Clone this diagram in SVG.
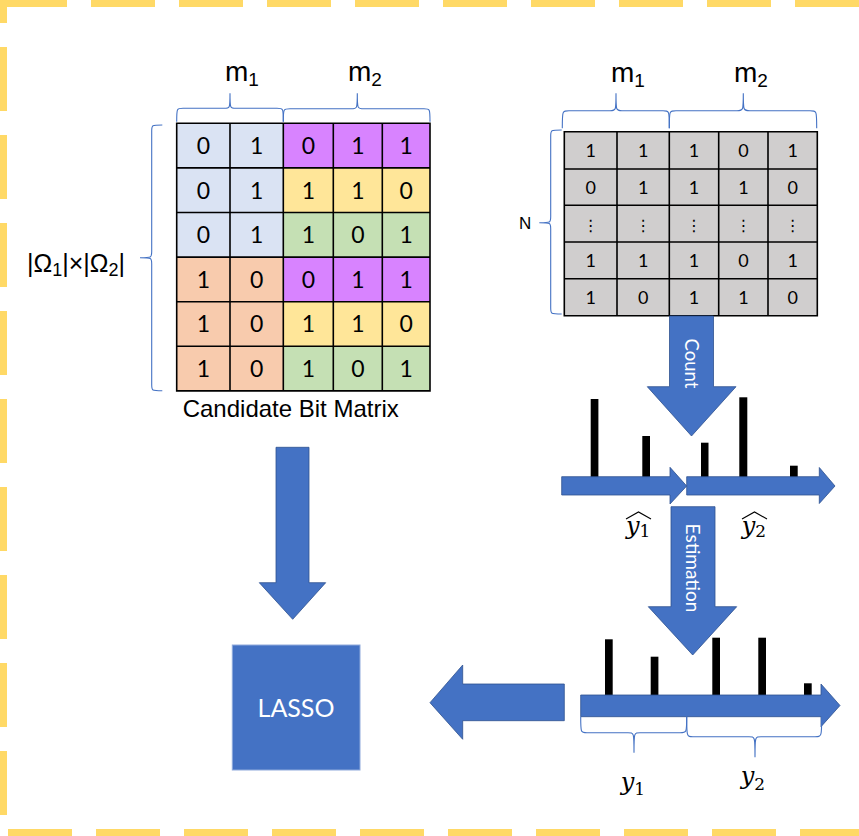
<svg xmlns="http://www.w3.org/2000/svg" width="859" height="836" viewBox="0 0 859 836">
  <style>
    .frame { fill: none; stroke: #FFD966; stroke-width: 7; stroke-dasharray: 64 24; }
    .grid { fill: none; stroke: #000; stroke-width: 1.6; }
    .brace { fill: none; stroke: #4472C4; stroke-width: 1.1; }
    .arrow { fill: #4472C4; stroke: #2F528F; stroke-width: 0.8; }
    .bar { fill: #000; }
    .dL { font-family: Lato, "Open Sans", sans-serif; font-size: 23px; fill: #000; text-anchor: middle; }
    .dR { font-family: Lato, "Open Sans", sans-serif; font-size: 18px; fill: #000; text-anchor: middle; }
    .dots { font-family: "DejaVu Sans", sans-serif; font-size: 16px; fill: #000; text-anchor: middle; }
    .lab { font-family: "Liberation Sans", Arial, sans-serif; fill: #000; }
    .wt { font-family: Lato, "Open Sans", sans-serif; fill: #fff; text-anchor: middle; }
    .mi { font-family: "DejaVu Serif", "Liberation Serif", serif; font-style: italic; font-size: 24px; fill: #000; }
    .sub { font-style: normal; font-size: 17px; }
    .hat { fill: none; stroke: #000; stroke-width: 1.1; }
  </style>

  <!-- dashed yellow frame -->
  <g id="frame">
    <line class="frame" x1="0" y1="3.5" x2="859" y2="3.5" stroke-dashoffset="85"/>
    <line class="frame" x1="3.5" y1="-41" x2="3.5" y2="836"/>
    <line class="frame" x1="8" y1="832.5" x2="859" y2="832.5"/>
  </g>

  <!-- candidate bit matrix -->
  <g id="candidate-matrix">
    <rect x="176.7" y="123.3" width="106.6" height="133.8" fill="#DAE3F3"/>
    <rect x="176.7" y="257.1" width="106.6" height="133.8" fill="#F8CBAD"/>
    <rect x="283.3" y="123.3" width="146.7" height="44.6" fill="#D883FF"/>
    <rect x="283.3" y="167.9" width="146.7" height="44.6" fill="#FFE699"/>
    <rect x="283.3" y="212.5" width="146.7" height="44.6" fill="#C5E0B4"/>
    <rect x="283.3" y="257.1" width="146.7" height="44.6" fill="#D883FF"/>
    <rect x="283.3" y="301.7" width="146.7" height="44.6" fill="#FFE699"/>
    <rect x="283.3" y="346.3" width="146.7" height="44.6" fill="#C5E0B4"/>
    <path class="grid" d="M176.7,123.3H430V390.9H176.7Z
      M176.7,167.9H430 M176.7,212.5H430 M176.7,257.1H430 M176.7,301.7H430 M176.7,346.3H430
      M230,123.3V390.9 M283.3,123.3V390.9 M333.3,123.3V390.9 M382.3,123.3V390.9"/>
    <g class="dL">
      <text x="203.3" y="154">0</text><text x="256.7" y="154">1</text><text x="308.3" y="154">0</text><text x="357.8" y="154">1</text><text x="406.2" y="154">1</text>
      <text x="203.3" y="198.6">0</text><text x="256.7" y="198.6">1</text><text x="308.3" y="198.6">1</text><text x="357.8" y="198.6">1</text><text x="406.2" y="198.6">0</text>
      <text x="203.3" y="243.2">0</text><text x="256.7" y="243.2">1</text><text x="308.3" y="243.2">1</text><text x="357.8" y="243.2">0</text><text x="406.2" y="243.2">1</text>
      <text x="203.3" y="287.8">1</text><text x="256.7" y="287.8">0</text><text x="308.3" y="287.8">0</text><text x="357.8" y="287.8">1</text><text x="406.2" y="287.8">1</text>
      <text x="203.3" y="332.4">1</text><text x="256.7" y="332.4">0</text><text x="308.3" y="332.4">1</text><text x="357.8" y="332.4">1</text><text x="406.2" y="332.4">0</text>
      <text x="203.3" y="377">1</text><text x="256.7" y="377">0</text><text x="308.3" y="377">1</text><text x="357.8" y="377">0</text><text x="406.2" y="377">1</text>
    </g>
    <path class="brace" d="M176.7,121.7C176.7,108.3 176.7,108.3 183,108.3H224C230,108.3 230,108.3 230,93.3C230,108.3 230,108.3 236,108.3H277C283.3,108.3 283.3,108.3 283.3,121.7"/>
    <path class="brace" d="M283.3,121.7C283.3,108.8 283.3,108.8 290,108.8H351C357.3,108.8 357.3,108.8 357.3,93.3C357.3,108.8 357.3,108.8 364,108.8H424C430,108.8 430,108.8 430,121.7"/>
    <path class="brace" d="M162.3,125C151.7,125 151.7,125 151.7,131V251.7C151.7,257.7 151.7,257.7 140,257.7C151.7,257.7 151.7,257.7 151.7,263.7V384.7C151.7,390.7 151.7,390.7 162.3,390.7"/>
    <text class="lab" x="225" y="81" font-size="28">m<tspan font-size="19" dy="5">1</tspan></text>
    <text class="lab" x="348" y="81" font-size="28">m<tspan font-size="19" dy="5">2</tspan></text>
    <text class="lab" x="27" y="271.5" font-size="25">|Ω<tspan font-size="18" dy="4">1</tspan><tspan dy="-4">|×|Ω</tspan><tspan font-size="18" dy="4">2</tspan><tspan dy="-4">|</tspan></text>
    <text class="lab" x="182.7" y="417" font-size="24">Candidate Bit Matrix</text>
  </g>

  <!-- observed data matrix -->
  <g id="data-matrix">
    <rect x="564.3" y="131.7" width="253" height="184" fill="#D0CECE"/>
    <path class="grid" d="M564.3,131.7H817.3V315.7H564.3Z
      M564.3,169H817.3 M564.3,205.3H817.3 M564.3,242H817.3 M564.3,278.7H817.3
      M617,131.7V315.7 M669.3,131.7V315.7 M718.7,131.7V315.7 M768,131.7V315.7"/>
    <g class="dR">
      <text x="590.7" y="157">1</text><text x="643.2" y="157">1</text><text x="694" y="157">1</text><text x="743.4" y="157">0</text><text x="792.7" y="157">1</text>
      <text x="590.7" y="193.7">0</text><text x="643.2" y="193.7">1</text><text x="694" y="193.7">1</text><text x="743.4" y="193.7">1</text><text x="792.7" y="193.7">0</text>
      <text x="590.7" y="267">1</text><text x="643.2" y="267">1</text><text x="694" y="267">1</text><text x="743.4" y="267">0</text><text x="792.7" y="267">1</text>
      <text x="590.7" y="303.7">1</text><text x="643.2" y="303.7">0</text><text x="694" y="303.7">1</text><text x="743.4" y="303.7">1</text><text x="792.7" y="303.7">0</text>
    </g>
    <g class="dots">
      <text x="590.7" y="230.5">⋮</text><text x="643.2" y="230.5">⋮</text><text x="694" y="230.5">⋮</text><text x="743.4" y="230.5">⋮</text><text x="792.7" y="230.5">⋮</text>
    </g>
    <path class="brace" d="M562.3,128.3C562.3,110.7 562.3,110.7 569,110.7H610C616,110.7 616,110.7 616,93.3C616,110.7 616,110.7 622,110.7H663C669.3,110.7 669.3,110.7 669.3,128.3"/>
    <path class="brace" d="M669.3,128.3C669.3,110.7 669.3,110.7 676,110.7H737C743.3,110.7 743.3,110.7 743.3,93.3C743.3,110.7 743.3,110.7 750,110.7H810C816.7,110.7 816.7,110.7 816.7,128.3"/>
    <path class="brace" d="M561.7,130C550.7,130 550.7,130 550.7,136V216.7C550.7,222.7 550.7,222.7 539.3,222.7C550.7,222.7 550.7,222.7 550.7,228.7V308C550.7,314 550.7,314 561.7,314"/>
    <text class="lab" x="611" y="82" font-size="28">m<tspan font-size="19" dy="5">1</tspan></text>
    <text class="lab" x="734" y="82" font-size="28">m<tspan font-size="19" dy="5">2</tspan></text>
    <text class="lab" x="519" y="228.5" font-size="17">N</text>
  </g>

  <!-- counted histogram -->
  <g id="count-histogram">
    <rect class="bar" x="590.7" y="399" width="7.7" height="79"/>
    <rect class="bar" x="642.3" y="436" width="7.7" height="42"/>
    <rect class="bar" x="701" y="442.7" width="7.5" height="35"/>
    <rect class="bar" x="739.3" y="397.3" width="8" height="81"/>
    <rect class="bar" x="790" y="465.7" width="7.7" height="12"/>
    <polygon class="arrow" points="561.7,476.7 670,476.7 670,467.3 686.7,486 670,504 670,495 561.7,495"/>
    <polygon class="arrow" points="686.7,476.7 819.3,476.7 819.3,467.5 835,486 819.3,503.5 819.3,495 686.7,495"/>
    <text class="mi" x="626" y="534">y<tspan class="sub" dy="3">1</tspan></text>
    <polyline class="hat" points="626,519 638.5,512 651,519"/>
    <text class="mi" x="741.7" y="534">y<tspan class="sub" dy="3">2</tspan></text>
    <polyline class="hat" points="742,519 754.5,512 767,519"/>
  </g>

  <!-- estimated histogram -->
  <g id="estimated-histogram">
    <rect class="bar" x="605" y="639.3" width="7.7" height="57"/>
    <rect class="bar" x="650.7" y="656.7" width="7.7" height="40"/>
    <rect class="bar" x="712.3" y="637.7" width="7.7" height="59"/>
    <rect class="bar" x="758.3" y="637.7" width="7.7" height="59"/>
    <rect class="bar" x="804" y="683.3" width="7.7" height="13"/>
    <polygon class="arrow" points="580.7,695 821,695 821,684 840,705.5 821,726.7 821,716.7 580.7,716.7"/>
    <path class="brace" d="M580.7,716.7C580.7,732.7 580.7,732.7 587,732.7H628C634,732.7 634,732.7 634,752.7C634,732.7 634,732.7 640,732.7H680C686.7,732.7 686.7,732.7 686.7,716.7"/>
    <path class="brace" d="M686.7,716.7C686.7,736.7 686.7,736.7 693,736.7H749C755,736.7 755,736.7 755,757.3C755,736.7 755,736.7 761,736.7H815C821.7,736.7 821.7,736.7 821.7,716.7"/>
    <text class="mi" x="620.7" y="790">y<tspan class="sub" dy="5">1</tspan></text>
    <text class="mi" x="740.7" y="784">y<tspan class="sub" dy="6">2</tspan></text>
  </g>

  <!-- LASSO solver -->
  <g id="lasso">
    <rect x="232.3" y="645" width="127.7" height="125" fill="#4472C4" stroke="#8FAADC" stroke-width="1"/>
    <text class="wt" x="296" y="717" font-size="25">LASSO</text>
  </g>

  <!-- flow arrows -->
  <g id="connectors">
    <polygon class="arrow" points="669.5,316 713.5,316 713.5,386.7 736,386.7 691.5,436 647.3,386.7 669.5,386.7"/>
    <text class="wt" font-size="18.5" transform="translate(691.5,363.5) rotate(90)" x="0" y="6.5">Count</text>
    <polygon class="arrow" points="671,506.7 715,506.7 715,606.7 736.7,606.7 692.7,655 648.3,606.7 671,606.7"/>
    <text class="wt" font-size="19" transform="translate(692.5,568) rotate(90)" x="0" y="6.5">Estimation</text>
    <polygon class="arrow" points="276,447.3 309,447.3 309,582.7 325.7,582.7 292.7,619.3 259.3,582.7 276,582.7"/>
    <polygon class="arrow" points="564.3,684 462.7,684 462.7,665 430,702.7 462.7,739.3 462.7,720.7 564.3,720.7"/>
  </g>
</svg>
